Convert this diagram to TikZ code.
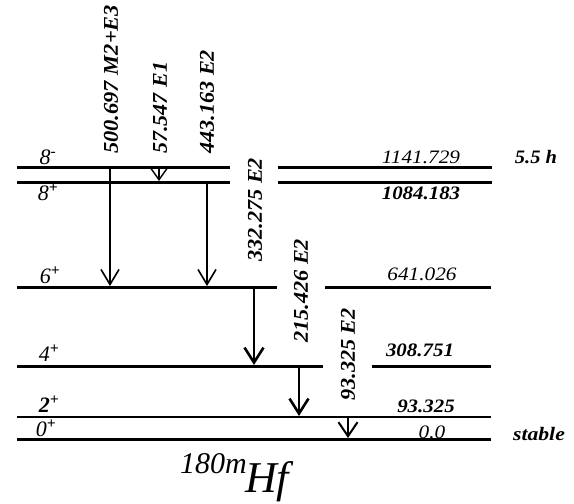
\documentclass[tikz,border=0pt]{standalone}
\usepackage{fontspec}
\setmainfont{Liberation Serif}
\usetikzlibrary{arrows.meta}
\newcommand\stx[2][1.17]{\scalebox{#1}[1]{#2}}
\begin{document}
\begin{tikzpicture}[x=1pt,y=-1pt,
  lvl/.style={line width=3pt},
  trans/.style={line width=1.6pt,-{Straight Barb[length=15pt,width=18pt,line width=1.6pt]}},
  transb/.style={line width=2.6pt,-{Straight Barb[length=15pt,width=19pt,line width=2.6pt]}},
  tlab/.style={rotate=90,anchor=west,inner sep=0pt,font=\fontsize{21}{24}\selectfont\bfseries\itshape},
  elab/.style={inner sep=0pt,font=\fontsize{19}{22}\selectfont\itshape},
  eblab/.style={inner sep=0pt,font=\fontsize{19}{22}\selectfont\bfseries\itshape},
  jlab/.style={inner sep=0pt,font=\fontsize{22}{24}\selectfont\itshape}]
\useasboundingbox (0,0) rectangle (574,504);
% levels
\coordinate (L8mA) at (17,167); \coordinate (L8mB) at (230,167);
\coordinate (L8mC) at (278,167); \coordinate (L8mD) at (492,167);
\coordinate (L8pA) at (17,182); \coordinate (L8pB) at (230,182);
\coordinate (L8pC) at (278,182); \coordinate (L8pD) at (492,182);
\coordinate (L6A) at (17,287); \coordinate (L6B) at (277,287);
\coordinate (L6C) at (325,287); \coordinate (L6D) at (491,287);
\coordinate (L4A) at (17,366); \coordinate (L4B) at (323,366);
\coordinate (L4C) at (372,366); \coordinate (L4D) at (491,366);
\coordinate (L2A) at (17,417); \coordinate (L2D) at (491,417);
\coordinate (L0A) at (17,439); \coordinate (L0D) at (491,439);
\draw[lvl] (L8mA) -- (L8mB); \draw[lvl] (L8mC) -- (L8mD);
\draw[lvl] (L8pA) -- (L8pB); \draw[lvl] (L8pC) -- (L8pD);
\draw[lvl] (L6A) -- (L6B); \draw[lvl] (L6C) -- (L6D);
\draw[lvl] (L4A) -- (L4B); \draw[lvl] (L4C) -- (L4D);
\draw[line width=2.6pt] (L2A) -- (L2D);
\draw[lvl] (L0A) -- (L0D);
% transitions
\coordinate (t1s) at (110,168); \coordinate (t1e) at (110,286);
\coordinate (t2s) at (159,168); \coordinate (t2e) at (159,181);
\coordinate (t3s) at (207,183); \coordinate (t3e) at (207,286);
\coordinate (t4s) at (254,288); \coordinate (t4e) at (254,365);
\coordinate (t5s) at (299,367); \coordinate (t5e) at (299,416);
\coordinate (t6s) at (348,418); \coordinate (t6e) at (348,438);
\draw[trans] (t1s) -- (t1e);
\draw[line width=1.4pt,-{Straight Barb[length=12pt,width=17pt,line width=1.4pt]}] (t2s) -- (t2e);
\draw[trans] (t3s) -- (t3e);
\draw[transb] (t4s) -- (t4e);
\draw[transb] (t5s) -- (t5e);
\draw[line width=2pt,-{Straight Barb[length=14pt,width=19pt,line width=2pt]}] (t6s) -- (t6e);
% transition labels
\node[tlab] (g1) at (111,154) {\stx[1.07]{500.697 M2+E3}};
\node[tlab] (g2) at (160,154) {\stx[1.05]{57.547 E1}};
\node[tlab] (g3) at (207,154) {\stx[1.06]{443.163 E2}};
\node[tlab] (g4) at (255,262) {\stx[1.06]{332.275 E2}};
\node[tlab] (g5) at (301,343) {\stx[1.06]{215.426 E2}};
\node[tlab] (g6) at (348,401) {\stx[1.06]{93.325 E2}};
% spin labels
\node[jlab] (j8m) at (48,157) {8\textsuperscript{-}};
\node[jlab] (j8p) at (48,192) {8\textsuperscript{\bfseries +}};
\node[jlab] (j6) at (50,275) {6\textsuperscript{\bfseries +}};
\node[jlab] (j4) at (49,353) {4\textsuperscript{\bfseries +}};
\node[jlab] (j2) at (49,404) {\bfseries 2\textsuperscript{+}};
\node[jlab] (j0) at (46,428) {0\textsuperscript{\bfseries +}};
% energies
\node[elab] (e1) at (421,157) {\stx[1.12]{1141.729}};
\node[eblab] (e2) at (421,193) {\stx[1.1]{1084.183}};
\node[elab] (e3) at (422,274) {\stx[1.12]{641.026}};
\node[eblab] (e4) at (420,350) {\stx[1.1]{308.751}};
\node[eblab] (e5) at (426,406) {\stx[1.1]{93.325}};
\node[elab] (e6) at (432,432) {\stx[1.12]{0.0}};
\node[eblab] (hl) at (536,157) {\stx[1.08]{5.5 h}};
\node[eblab] (st) at (539,434) {\stx[1.14]{stable}};
% nucleus
\node[inner sep=0pt,anchor=base west,font=\fontsize{30}{32}\selectfont\itshape] (A) at (180,473) {180m};
\node[inner sep=0pt,anchor=base west,font=\fontsize{44}{46}\selectfont\itshape] (H) at (245,492) {Hf};
\end{tikzpicture}
\end{document}
